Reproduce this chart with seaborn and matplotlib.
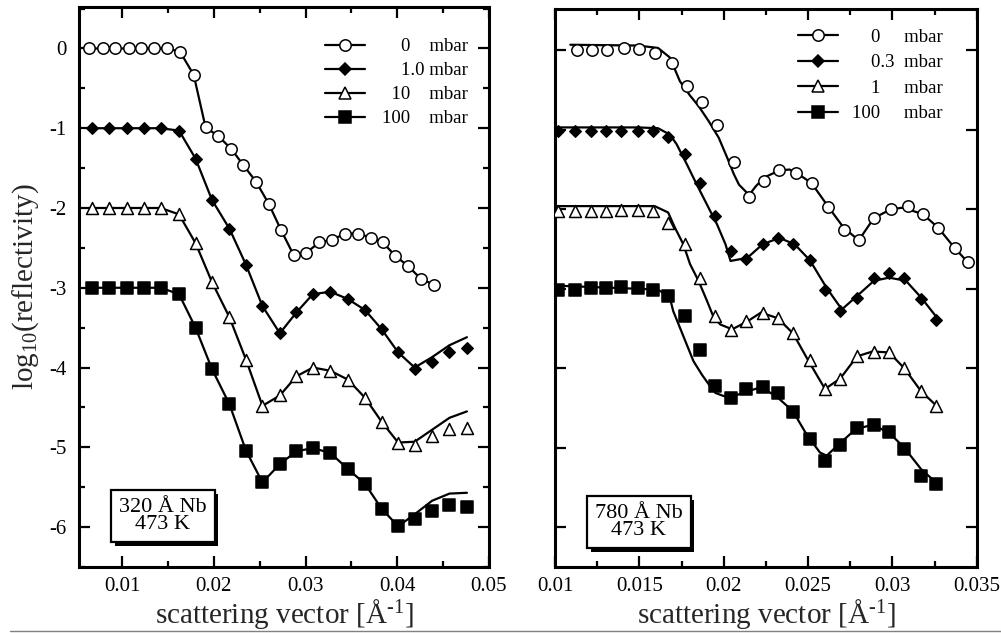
import matplotlib
matplotlib.use("Agg")
import matplotlib.pyplot as plt
import matplotlib.patheffects as pe
import seaborn as sns
from matplotlib.lines import Line2D
from matplotlib.ticker import MultipleLocator, FuncFormatter

# ---------------- data: left panel (320 A Nb, 473 K) ----------------
L_x0 = [0.0064, 0.0079, 0.0092, 0.0107, 0.0121, 0.0135, 0.0149, 0.0163, 0.0178, 0.0191,
        0.0205, 0.0219, 0.0232, 0.0246, 0.0260, 0.0273, 0.0287, 0.0301, 0.0315, 0.0329,
        0.0343, 0.0357, 0.0371, 0.0384, 0.0398, 0.0412, 0.0426, 0.0440]
L_y0 = [0, 0, 0, 0, 0, 0, 0, -0.04, -0.33, -0.99, -1.10, -1.26, -1.46, -1.67, -1.95,
        -2.27, -2.59, -2.56, -2.43, -2.40, -2.32, -2.32, -2.37, -2.43, -2.60, -2.73, -2.89, -2.96]
L_x = [0.0067, 0.0086, 0.0105, 0.0124, 0.0142, 0.0162, 0.0180, 0.0198, 0.0217, 0.0235,
       0.0253, 0.0272, 0.0290, 0.0308, 0.0327, 0.0346, 0.0365, 0.0383, 0.0401, 0.0419,
       0.0438, 0.0457, 0.0476]
L_y1 = [-1.0, -1.0, -1.0, -1.0, -1.0, -1.03, -1.38, -1.90, -2.26, -2.71, -3.23, -3.57,
        -3.31, -3.08, -3.05, -3.14, -3.28, -3.52, -3.81, -4.02, -3.93, -3.81, -3.76]
L_y10 = [-2.0, -2.0, -2.0, -2.0, -2.0, -2.08, -2.44, -2.93, -3.37, -3.90, -4.48, -4.35,
         -4.11, -4.0, -4.04, -4.15, -4.38, -4.68, -4.94, -4.97, -4.86, -4.77, -4.76]
L_y100 = [-3.0, -3.0, -3.0, -3.0, -3.0, -3.08, -3.50, -4.02, -4.46, -5.04, -5.44, -5.21,
          -5.05, -5.01, -5.07, -5.27, -5.46, -5.77, -5.99, -5.90, -5.80, -5.72, -5.75]
# fitted curves deviate from the data only at the high-q end
L_fit_tail1 = [-4.00, -3.87, -3.72, -3.62]
L_fit_tail10 = [-4.93, -4.78, -4.63, -4.55]
L_fit_tail100 = [-5.84, -5.67, -5.58, -5.57]
L_labels = ["    0    mbar", "    1.0 mbar", "  10    mbar", "100    mbar"]

# ---------------- data: right panel (780 A Nb, 473 K) ----------------
R_x0 = [0.0113, 0.0122, 0.0131, 0.0141, 0.0150, 0.0159, 0.0169, 0.0178, 0.0187, 0.0196,
        0.0206, 0.0215, 0.0224, 0.0233, 0.0243, 0.0252, 0.0262, 0.0271, 0.0280, 0.0289,
        0.0299, 0.0309, 0.0318, 0.0327, 0.0337, 0.0345]
R_y0 = [0.01, 0.0, 0.01, 0.03, 0.02, -0.03, -0.16, -0.45, -0.65, -0.94, -1.40, -1.85,
        -1.64, -1.51, -1.54, -1.67, -1.97, -2.26, -2.39, -2.11, -2.00, -1.96, -2.06,
        -2.23, -2.49, -2.66]
R_x = [0.0102, 0.0112, 0.0121, 0.0130, 0.0139, 0.0149, 0.0158, 0.0167, 0.0177, 0.0186,
       0.0195, 0.0204, 0.0213, 0.0223, 0.0232, 0.0241, 0.0251, 0.0260, 0.0269, 0.0279,
       0.0289, 0.0298, 0.0307, 0.0317, 0.0326]
R_y03 = [-1.01, -1.01, -1.01, -1.01, -1.01, -1.01, -1.01, -1.09, -1.31, -1.67, -2.08,
         -2.52, -2.62, -2.44, -2.36, -2.44, -2.64, -3.02, -3.28, -3.11, -2.86, -2.80,
         -2.86, -3.13, -3.39]
R_y1 = [-2.02, -2.02, -2.02, -2.02, -2.01, -2.01, -2.02, -2.17, -2.44, -2.86, -3.34,
        -3.52, -3.41, -3.30, -3.37, -3.56, -3.90, -4.26, -4.13, -3.85, -3.79, -3.80,
        -4.00, -4.29, -4.47]
R_y100 = [-3.01, -3.01, -2.99, -2.99, -2.98, -2.99, -3.01, -3.09, -3.34, -3.77, -4.22,
          -4.38, -4.26, -4.23, -4.31, -4.55, -4.89, -5.17, -4.97, -4.75, -4.71, -4.80,
          -5.02, -5.35, -5.45]

R_fit0_x = [0.0109, 0.0149, 0.0161, 0.0168, 0.0174, 0.0180, 0.0185, 0.0191, 0.0197,
            0.0202, 0.0206, 0.0209, 0.0215, 0.0219, 0.0224, 0.0233, 0.0239, 0.0243,
            0.0252, 0.0262, 0.0271, 0.0280, 0.0289, 0.0299, 0.0306, 0.0318, 0.0327,
            0.0337, 0.0347]
R_fit0_y = [0.07, 0.06, 0.03, -0.09, -0.39, -0.57, -0.70, -0.89, -1.10, -1.35, -1.56,
            -1.69, -1.82, -1.71, -1.60, -1.51, -1.50, -1.54, -1.67, -1.97, -2.23, -2.39,
            -2.11, -2.00, -1.98, -2.06, -2.23, -2.49, -2.72]
R_fit03_x = [0.0103, 0.0149, 0.0161, 0.0168, 0.0172, 0.0178, 0.0184, 0.0190, 0.0196,
             0.0201, 0.0204, 0.0214, 0.0223, 0.0233, 0.0242, 0.0251, 0.0261, 0.0270,
             0.0279, 0.0289, 0.0298, 0.0308, 0.0317, 0.0327]
R_fit03_y = [-0.97, -0.97, -0.98, -1.06, -1.18, -1.43, -1.69, -1.94, -2.19, -2.44, -2.65,
             -2.61, -2.44, -2.36, -2.44, -2.64, -2.99, -3.26, -3.09, -2.90, -2.86, -2.90,
             -3.11, -3.38]
R_fit1_x = [0.0100, 0.0159, 0.0167, 0.0171, 0.0176, 0.0180, 0.0185, 0.0190, 0.0194,
            0.0198, 0.0205, 0.0214, 0.0222, 0.0232, 0.0241, 0.0250, 0.0260, 0.0269,
            0.0279, 0.0288, 0.0298, 0.0307, 0.0317, 0.0326]
R_fit1_y = [-1.96, -1.96, -2.04, -2.23, -2.44, -2.69, -2.90, -3.15, -3.36, -3.45, -3.51,
            -3.41, -3.30, -3.37, -3.56, -3.90, -4.26, -4.13, -3.85, -3.79, -3.80, -4.00,
            -4.29, -4.47]
R_fit100_x = [0.0100, 0.0161, 0.0168, 0.0170, 0.0174, 0.0178, 0.0182, 0.0187, 0.0191,
              0.0195, 0.0200, 0.0206, 0.0214, 0.0222, 0.0231, 0.0241, 0.0249, 0.0257,
              0.0261, 0.0268, 0.0278, 0.0288, 0.0298, 0.0307, 0.0317, 0.0326]
R_fit100_y = [-2.96, -3.01, -3.11, -3.28, -3.49, -3.70, -3.91, -4.08, -4.20, -4.31, -4.35,
              -4.35, -4.29, -4.24, -4.35, -4.54, -4.83, -5.06, -5.10, -4.96, -4.77, -4.71,
              -4.81, -5.00, -5.27, -5.44]
R_labels = ["    0     mbar", "    0.3  mbar", "    1     mbar", "100     mbar"]

# ---------------- style ----------------
sns.set_theme(style="ticks")
plt.rcParams.update({
    "font.family": ["Liberation Serif", "DejaVu Serif"],
    "mathtext.fontset": "custom",
    "mathtext.rm": "Liberation Serif",
    "mathtext.it": "Liberation Serif:italic",
    "mathtext.bf": "Liberation Serif:bold",
    "axes.unicode_minus": False,
    "axes.linewidth": 2.2,
    "axes.edgecolor": "black",
    "text.color": "black",
    "xtick.color": "black",
    "ytick.color": "black",
})

STY = {
    "circle": dict(marker="o", ms=8.2, fc="white"),
    "diamond": dict(marker="D", ms=5.8, fc="black"),
    "triangle": dict(marker="^", ms=8.6, fc="white"),
    "square": dict(marker="s", ms=8.8, fc="black"),
}
LW = 1.6
MEW = 1.1

fig = plt.figure(figsize=(10.01, 6.33), dpi=100)
axL = fig.add_axes([0.079, 0.1043, 0.4096, 0.8847])
axR = fig.add_axes([0.5544, 0.1043, 0.4216, 0.8815])


def draw(ax, x, y, fx, fy, style):
    st = STY[style]
    sns.lineplot(x=fx, y=fy, ax=ax, color="black", linewidth=LW, sort=False,
                 estimator=None, legend=False, zorder=2)
    sns.scatterplot(x=x, y=y, ax=ax, marker=st["marker"], s=st["ms"] ** 2,
                    color=st["fc"], edgecolor="black", linewidth=MEW,
                    legend=False, zorder=3)


# left panel
draw(axL, L_x0, L_y0, L_x0, L_y0, "circle")
draw(axL, L_x, L_y1, L_x, L_y1[:19] + L_fit_tail1, "diamond")
draw(axL, L_x, L_y10, L_x, L_y10[:19] + L_fit_tail10, "triangle")
draw(axL, L_x, L_y100, L_x, L_y100[:19] + L_fit_tail100, "square")

# right panel
draw(axR, R_x0, R_y0, R_fit0_x, R_fit0_y, "circle")
draw(axR, R_x, R_y03, R_fit03_x, R_fit03_y, "diamond")
draw(axR, R_x, R_y1, R_fit1_x, R_fit1_y, "triangle")
draw(axR, R_x, R_y100, R_fit100_x, R_fit100_y, "square")

fmt = FuncFormatter(lambda v, p: "%g" % round(v, 4))
for ax in (axL, axR):
    ax.set_ylim(-6.5, 0.52)
    ax.yaxis.set_major_locator(MultipleLocator(1))
    ax.tick_params(which="both", direction="in", top=True, right=True,
                   width=1.6, labelsize=15, colors="black")
    ax.tick_params(which="major", length=8)
    ax.tick_params(axis="x", which="major", pad=7)
    ax.tick_params(axis="y", which="major", pad=9)
    ax.tick_params(which="minor", length=4.5)
    ax.xaxis.set_major_formatter(fmt)
    ax.set_xlabel(r"scattering vector [Å$^{\text{-1}}$]", fontsize=21, labelpad=1)
    ax.set_ylabel("")

axL.set_xlim(0.0053, 0.05002)
axL.xaxis.set_major_locator(MultipleLocator(0.01))
axL.xaxis.set_minor_locator(MultipleLocator(0.005))
axL.yaxis.set_minor_locator(MultipleLocator(0.5))
axL.set_ylabel("log$_{10}$(reflectivity)", fontsize=21, labelpad=6)

axR.set_xlim(0.00999, 0.03501)
axR.xaxis.set_major_locator(MultipleLocator(0.005))
axR.xaxis.set_minor_locator(MultipleLocator(0.0025))
axR.tick_params(axis="y", labelleft=False)


def handles():
    out = []
    for key in ("circle", "diamond", "triangle", "square"):
        st = STY[key]
        out.append(Line2D([], [], color="black", lw=LW, marker=st["marker"],
                          markersize=st["ms"], markerfacecolor=st["fc"],
                          markeredgecolor="black", markeredgewidth=MEW))
    return out


axL.legend(handles(), L_labels, loc="upper left", bbox_to_anchor=(0.600, 0.944),
           frameon=False, handlelength=2.15, handletextpad=0.9, labelspacing=0.36,
           borderpad=0, borderaxespad=0, fontsize=13.5, numpoints=1)
axR.legend(handles(), R_labels, loc="upper left", bbox_to_anchor=(0.575, 0.965),
           frameon=False, handlelength=2.15, handletextpad=0.75, labelspacing=0.45,
           borderpad=0, borderaxespad=0, fontsize=13.5, numpoints=1)


def info_box(ax, x, y, txt):
    t = ax.text(x, y, txt, transform=ax.transAxes, ha="center", va="center",
                fontsize=16, linespacing=0.85, zorder=5,
                bbox=dict(boxstyle="square,pad=0.36", fc="white", ec="black", lw=1.6))
    t.get_bbox_patch().set_path_effects([
        pe.SimplePatchShadow(offset=(2.6, -2.6), shadow_rgbFace="black", alpha=1.0),
        pe.Normal()])


info_box(axL, 0.204, 0.091, "320 Å Nb\n473 K")
info_box(axR, 0.199, 0.080, "780 Å Nb\n473 K")

fig.add_artist(Line2D([0.01, 1.0], [0.0025, 0.0025], transform=fig.transFigure,
                      color="#808080", lw=1.0))

fig.savefig("out.png", dpi=100)
